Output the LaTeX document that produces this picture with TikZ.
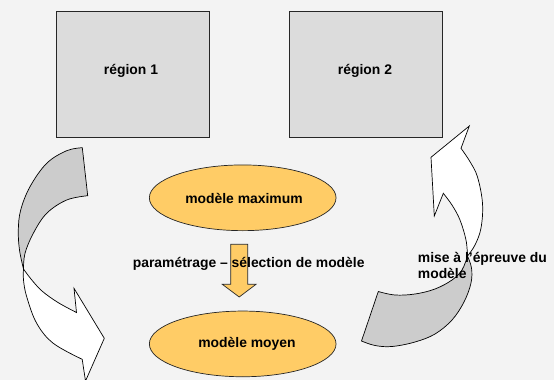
\documentclass[tikz,border=0pt]{standalone}
\usepackage{fontspec}
\setmainfont{Liberation Sans}
\usetikzlibrary{shapes.geometric}
\definecolor{bgc}{HTML}{F3F3F3}
\definecolor{boxc}{HTML}{DCDCDC}
\definecolor{backc}{HTML}{CCCCCC}
\definecolor{ellc}{HTML}{FFCC66}
\tikzset{
  regionbox/.style={draw=black!85, line width=0.7pt, fill=boxc, minimum width=153.3pt, minimum height=126pt, inner sep=0pt},
  modell/.style={ellipse, draw=black!85, line width=0.7pt, fill=ellc, minimum width=186.7pt, minimum height=65.7pt, inner sep=0pt},
  txt/.style={font=\fontsize{13.9}{16.7}\selectfont\bfseries, inner sep=0pt},
  band/.style={draw=black, line width=0.7pt, line join=miter},
}
\begin{document}
\begin{tikzpicture}[x=1pt,y=-1pt]
\fill[bgc] (0,0) rectangle (554,380);
\useasboundingbox (0,0) rectangle (554,380);
\begin{scope}
\clip (0,0) rectangle (554,380);
% region boxes
\node[regionbox] (r1) at (132.7,74.7) {};
\node[regionbox] (r2) at (365.7,74.7) {};
\node[txt] (r1t) at (131,71) {région 1};
\node[txt] (r2t) at (365,71) {région 2};
% ellipses
\node[modell] (mx) at (242.7,197.8) {};
\node[modell] (my) at (242.7,343.9) {};
\node[txt] (mxt) at (244,198.3) {modèle maximum};
\node[txt] (myt) at (247,344.3) {modèle moyen};
% block arrow down
\filldraw[fill=ellc, draw=black!85, line width=0.7pt]
  (230.7,244.3) -- (247.7,244.3) -- (247.7,284.3) -- (256,284.3) -- (239.2,297)
  -- (222.3,284.3) -- (230.7,284.3) -- cycle;
\node[txt] (pt) at (248.7,264.3) {paramétrage – sélection de modèle};
% left curved arrow: back (grey) band
\filldraw[band, fill=backc]
  (82.3,147.7) -- plot[smooth, tension=0.6] coordinates {(82.3,147.7) (66.7,150.7) (46.7,163.3) (30,186.7) (20.7,210) (18.3,230) (19.5,250) (23.5,269)}
  -- plot[smooth, tension=0.6] coordinates {(23.5,269) (25,253.3) (33.3,233.3) (46.7,213.3) (66.7,200) (87.7,195.7)}
  -- cycle;
% left curved arrow: front (white) band
\filldraw[band, fill=white]
  (23.5,269) -- plot[smooth, tension=0.6] coordinates {(23.5,269) (23.5,280) (26.7,296.7) (36.7,323.3) (53.3,343.3) (82.2,359.3)}
  -- (85.5,381) -- (104.3,338.3) -- (74,288.3) -- (76.5,312.5)
  -- plot[smooth, tension=0.6] coordinates {(76.5,312.5) (58,302.5) (42,291) (31,279) (23.5,269)}
  -- cycle;
% right curved arrow: back (grey) band
\filldraw[band, fill=backc]
  (378.3,291.5) -- (361.5,341)
  -- plot[smooth, tension=0.6] coordinates {(361.5,341) (375,345.5) (392,346.5) (415,342) (435,334) (452,320) (464,302) (471,283) (471.5,268) (467.5,256)}
  -- plot[smooth, tension=0.6] coordinates {(467.5,256) (462,270) (452,280) (435,289) (415,294) (395,295) (378.3,291.5)}
  -- cycle;
% right curved arrow: front (white) band
\filldraw[band, fill=white]
  (469.3,126) -- (461,148.3)
  -- plot[smooth, tension=0.6] coordinates {(461,148.3) (470,161.7) (477.5,177) (482.5,203.3) (481,228) (475,245) (467.5,256)}
  -- plot[smooth, tension=0.6] coordinates {(467.5,256) (466,240) (460,220) (452,205) (443.3,193.3)}
  -- (434.3,216) -- (431,157.3) -- cycle;
\node[txt, anchor=west, align=left] (mt) at (417.7,265.5) {mise à l'épreuve du\\modèle};
\end{scope}
\end{tikzpicture}
\end{document}
